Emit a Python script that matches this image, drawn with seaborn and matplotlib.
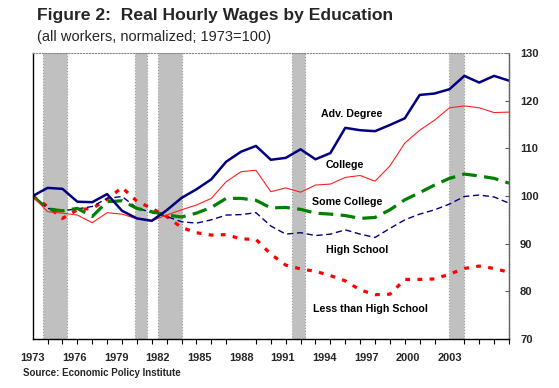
import numpy as np
import pandas as pd
import matplotlib
matplotlib.use("Agg")
import matplotlib.pyplot as plt
import seaborn as sns

# data (1973 = 100)
years = list(range(1973, 2006))
adv_degree = [100.0, 101.7, 101.5, 98.8, 98.7, 100.4, 96.9, 95.3, 94.8, 97.0,
              99.6, 101.4, 103.5, 107.2, 109.3, 110.5, 107.6, 108.0, 109.8, 107.7,
              109.0, 114.3, 113.8, 113.6, 114.9, 116.3, 121.2, 121.5, 122.4, 125.2,
              123.8, 125.2, 124.2]
college = [100.0, 96.7, 96.4, 96.0, 94.4, 96.5, 96.2, 95.2, 94.8, 96.0,
           97.1, 98.1, 99.5, 103.0, 105.1, 105.4, 100.9, 101.7, 100.8, 102.3,
           102.5, 103.9, 104.3, 103.1, 106.3, 111.1, 113.8, 115.9, 118.5, 118.9,
           118.5, 117.5, 117.6]
some_college = [100.0, 97.3, 96.9, 97.4, 95.7, 98.8, 99.0, 97.4, 96.7, 96.0,
                95.6, 96.4, 97.6, 99.5, 99.5, 99.1, 97.5, 97.6, 97.2, 96.4,
                96.2, 95.9, 95.3, 95.5, 97.1, 99.2, 100.7, 102.3, 103.7, 104.6,
                104.2, 103.7, 102.7]
high_school = [100.0, 97.4, 96.9, 97.3, 97.8, 99.5, 99.9, 97.5, 96.5, 95.7,
               94.6, 94.3, 95.0, 96.0, 96.1, 96.5, 93.7, 92.0, 92.3, 91.7,
               92.0, 92.9, 92.0, 91.3, 93.2, 95.0, 96.2, 97.1, 98.3, 99.9,
               100.2, 99.8, 98.5]
less_than_hs = [100.0, 97.8, 95.3, 97.1, 97.4, 99.3, 101.8, 98.9, 97.4, 95.7,
                93.4, 92.3, 91.8, 91.9, 91.0, 90.9, 87.8, 85.5, 84.7, 84.2,
                83.3, 82.2, 80.3, 79.3, 79.4, 82.5, 82.5, 82.6, 83.6, 84.8,
                85.3, 84.8, 84.0]

series_names = ["Adv. Degree", "College", "Some College", "High School",
                "Less than High School"]
recessions = [(1973.7, 1975.3), (1979.85, 1980.65), (1981.4, 1983.0),
              (1990.4, 1991.3), (2001.0, 2002.0)]
xtick_labels = ["1973", "1976", "1979", "1982", "1985", "1988", "1991",
                "1994", "1997", "2000", "2003"]
yticks = [70, 80, 90, 100, 110, 120, 130]

df = pd.DataFrame({"year": years, "Adv. Degree": adv_degree, "College": college,
                   "Some College": some_college, "High School": high_school,
                   "Less than High School": less_than_hs})

sns.set_style("white")
plt.rcParams["font.family"] = ["Liberation Sans", "DejaVu Sans"]

fig = plt.figure(figsize=(5.59, 3.88), dpi=100)
ax = fig.add_axes([0.0585, 0.1263, 0.852, 0.7371])

for a, b in recessions:
    ax.axvspan(a, b, facecolor="#C0C0C0", edgecolor="#9A9A9A",
               linestyle=":", linewidth=0.8, zorder=0)

styles = {
    "Adv. Degree": dict(color="#000080", linewidth=1.8, linestyle="-"),
    "College": dict(color="#FF2020", linewidth=0.8, linestyle="-"),
    "Some College": dict(color="#008000", linewidth=2.3, linestyle=(0, (4.6, 2.3))),
    "High School": dict(color="#000080", linewidth=1.0, linestyle=(0, (4.5, 2.6))),
    "Less than High School": dict(color="#FF0000", linewidth=2.3, linestyle=(0, (1.5, 2.3))),
}
for name in series_names[::-1]:
    sns.lineplot(data=df, x="year", y=name, ax=ax, **styles[name])

# in-plot labels
label_pos = {"Adv. Degree": (1994.45, 117.2), "College": (1993.95, 106.5),
             "Some College": (1994.15, 98.8), "High School": (1994.8, 88.7),
             "Less than High School": (1995.72, 76.3)}
for name in series_names:
    x, y = label_pos[name]
    ax.text(x, y, name, ha="center", va="center", fontsize=7.7,
            fontweight="bold", color="black")

ax.set_xlim(1973, 2005)
ax.set_ylim(70, 130)
ax.set_xlabel("")
ax.set_ylabel("")

# x axis: a tick every year, labels every third slot (squeezed as in the original)
ax.set_xticks(years, minor=True)
ax.set_xticks([1973 + 2.8 * i for i in range(len(xtick_labels))])
ax.set_xticklabels(xtick_labels, fontsize=7.9, fontweight="bold")
ax.tick_params(axis="x", which="major", length=0, pad=10)
ax.tick_params(axis="x", which="minor", direction="out", length=3.5, width=0.8,
               color="black", bottom=True)

ax.yaxis.tick_right()
ax.set_yticks(yticks)
ax.set_yticklabels([str(v) for v in yticks], fontsize=8, fontweight="bold")
ax.tick_params(axis="y", direction="in", length=3, width=0.8, pad=8,
               color="#555555", right=True, left=False)

for side in ["left", "bottom"]:
    ax.spines[side].set_color("black")
    ax.spines[side].set_linewidth(1.0)
ax.spines["top"].set_color("#888888")
ax.spines["top"].set_linestyle(":")
ax.spines["right"].set_color("#666666")
ax.spines["right"].set_linewidth(1.0)
ax.spines["right"].set_linestyle((0, (1, 0.6)))

fig.text(37 / 559, 1 - 15.5 / 388, "Figure 2:  Real Hourly Wages by Education",
         fontsize=12.6, fontweight="bold", va="center", ha="left")
fig.text(37 / 559, 1 - 37.5 / 388, "(all workers, normalized; 1973=100)",
         fontsize=10.5, va="center", ha="left")
fig.text(23 / 559, 1 - 373 / 388, "Source: Economic Policy Institute",
         fontsize=7.0, fontweight="bold", va="center", ha="left")

fig.savefig("out.png", dpi=100)
